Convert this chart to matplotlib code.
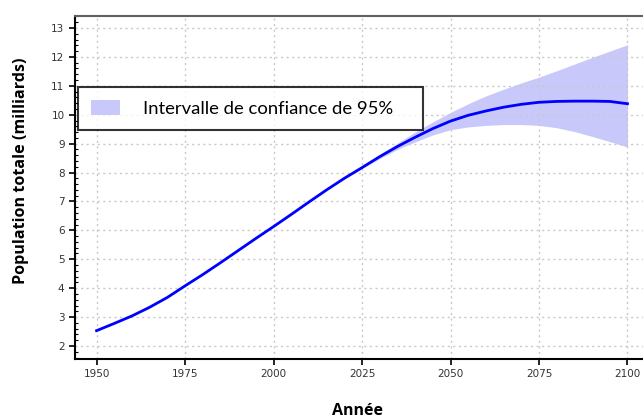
import numpy as np
import matplotlib.pyplot as plt
from matplotlib.ticker import MultipleLocator

# population mondiale (milliards)
annees = [1950, 1955, 1960, 1965, 1970, 1975, 1980, 1985, 1990, 1995, 2000,
          2005, 2010, 2015, 2020, 2025, 2030, 2035, 2040, 2045, 2050, 2055,
          2060, 2065, 2070, 2075, 2080, 2085, 2090, 2095, 2100]
population = [2.53, 2.78, 3.04, 3.34, 3.68, 4.08, 4.47, 4.88, 5.30, 5.72, 6.13,
              6.55, 6.98, 7.40, 7.80, 8.17, 8.55, 8.90, 9.22, 9.52, 9.78, 9.98,
              10.13, 10.26, 10.36, 10.43, 10.46, 10.47, 10.47, 10.46, 10.38]

# intervalle de confiance 95%
annees_ic = [2020, 2025, 2030, 2035, 2040, 2045, 2050, 2055, 2060, 2065, 2070,
             2075, 2080, 2085, 2090, 2095, 2100]
ic_haut = [7.80, 8.20, 8.62, 9.02, 9.40, 9.75, 10.08, 10.38, 10.65, 10.88, 11.10,
           11.30, 11.52, 11.75, 11.98, 12.20, 12.42]
ic_bas = [7.80, 8.14, 8.48, 8.80, 9.06, 9.30, 9.48, 9.58, 9.63, 9.66, 9.66,
          9.63, 9.55, 9.42, 9.25, 9.07, 8.88]

fig = plt.figure(figsize=(6.43, 4.19), dpi=100)
ax = fig.add_axes([0.1166, 0.1432, 0.9143, 0.8186])

ax.fill_between(annees_ic, ic_bas, ic_haut, color="#c8c8fa", linewidth=0,
                label="Intervalle de confiance de 95%")
ax.plot(annees, population, color="#0000ff", linewidth=2.0)

ax.set_xlim(1943.9, 2110)
ax.set_ylim(1.55, 13.415)
ax.set_xticks(range(1950, 2101, 25))
ax.set_yticks(range(2, 14))
ax.yaxis.set_minor_locator(MultipleLocator(0.2))

ax.grid(True, which="major", color="#c8c8c8", linestyle=(0, (1.5, 2.5)), linewidth=1)
ax.tick_params(axis="both", which="major", labelsize=7.5, labelcolor="#333333",
               length=4, width=1.2, direction="out")
ax.tick_params(axis="y", which="minor", length=2, width=0.8, direction="in")

for s in ["left", "bottom"]:
    ax.spines[s].set_linewidth(1.5)
ax.spines["top"].set_color("#606060")
ax.spines["top"].set_linewidth(1.5)
ax.spines["right"].set_visible(False)

ax.set_ylabel("Population totale (milliards)", fontsize=11.6, fontweight="bold",
              family="Open Sans")
ax.yaxis.set_label_coords(-0.078, 0.548)
ax.set_xlabel("Année", fontsize=11.5, fontweight="bold", family="Open Sans")
ax.xaxis.set_label_coords(0.481, -0.128)

leg = ax.legend(loc="upper left", bbox_to_anchor=(0.005, 0.671, 0.587, 0.122),
                mode="expand", fancybox=False, frameon=True, borderaxespad=0,
                prop={"family": "Lato", "size": 13.3}, handlelength=1.6,
                handleheight=0.85, handletextpad=1.25, borderpad=0.7)
leg.get_frame().set_edgecolor("black")
leg.get_frame().set_linewidth(1.5)

fig.savefig("out.png", dpi=100)
